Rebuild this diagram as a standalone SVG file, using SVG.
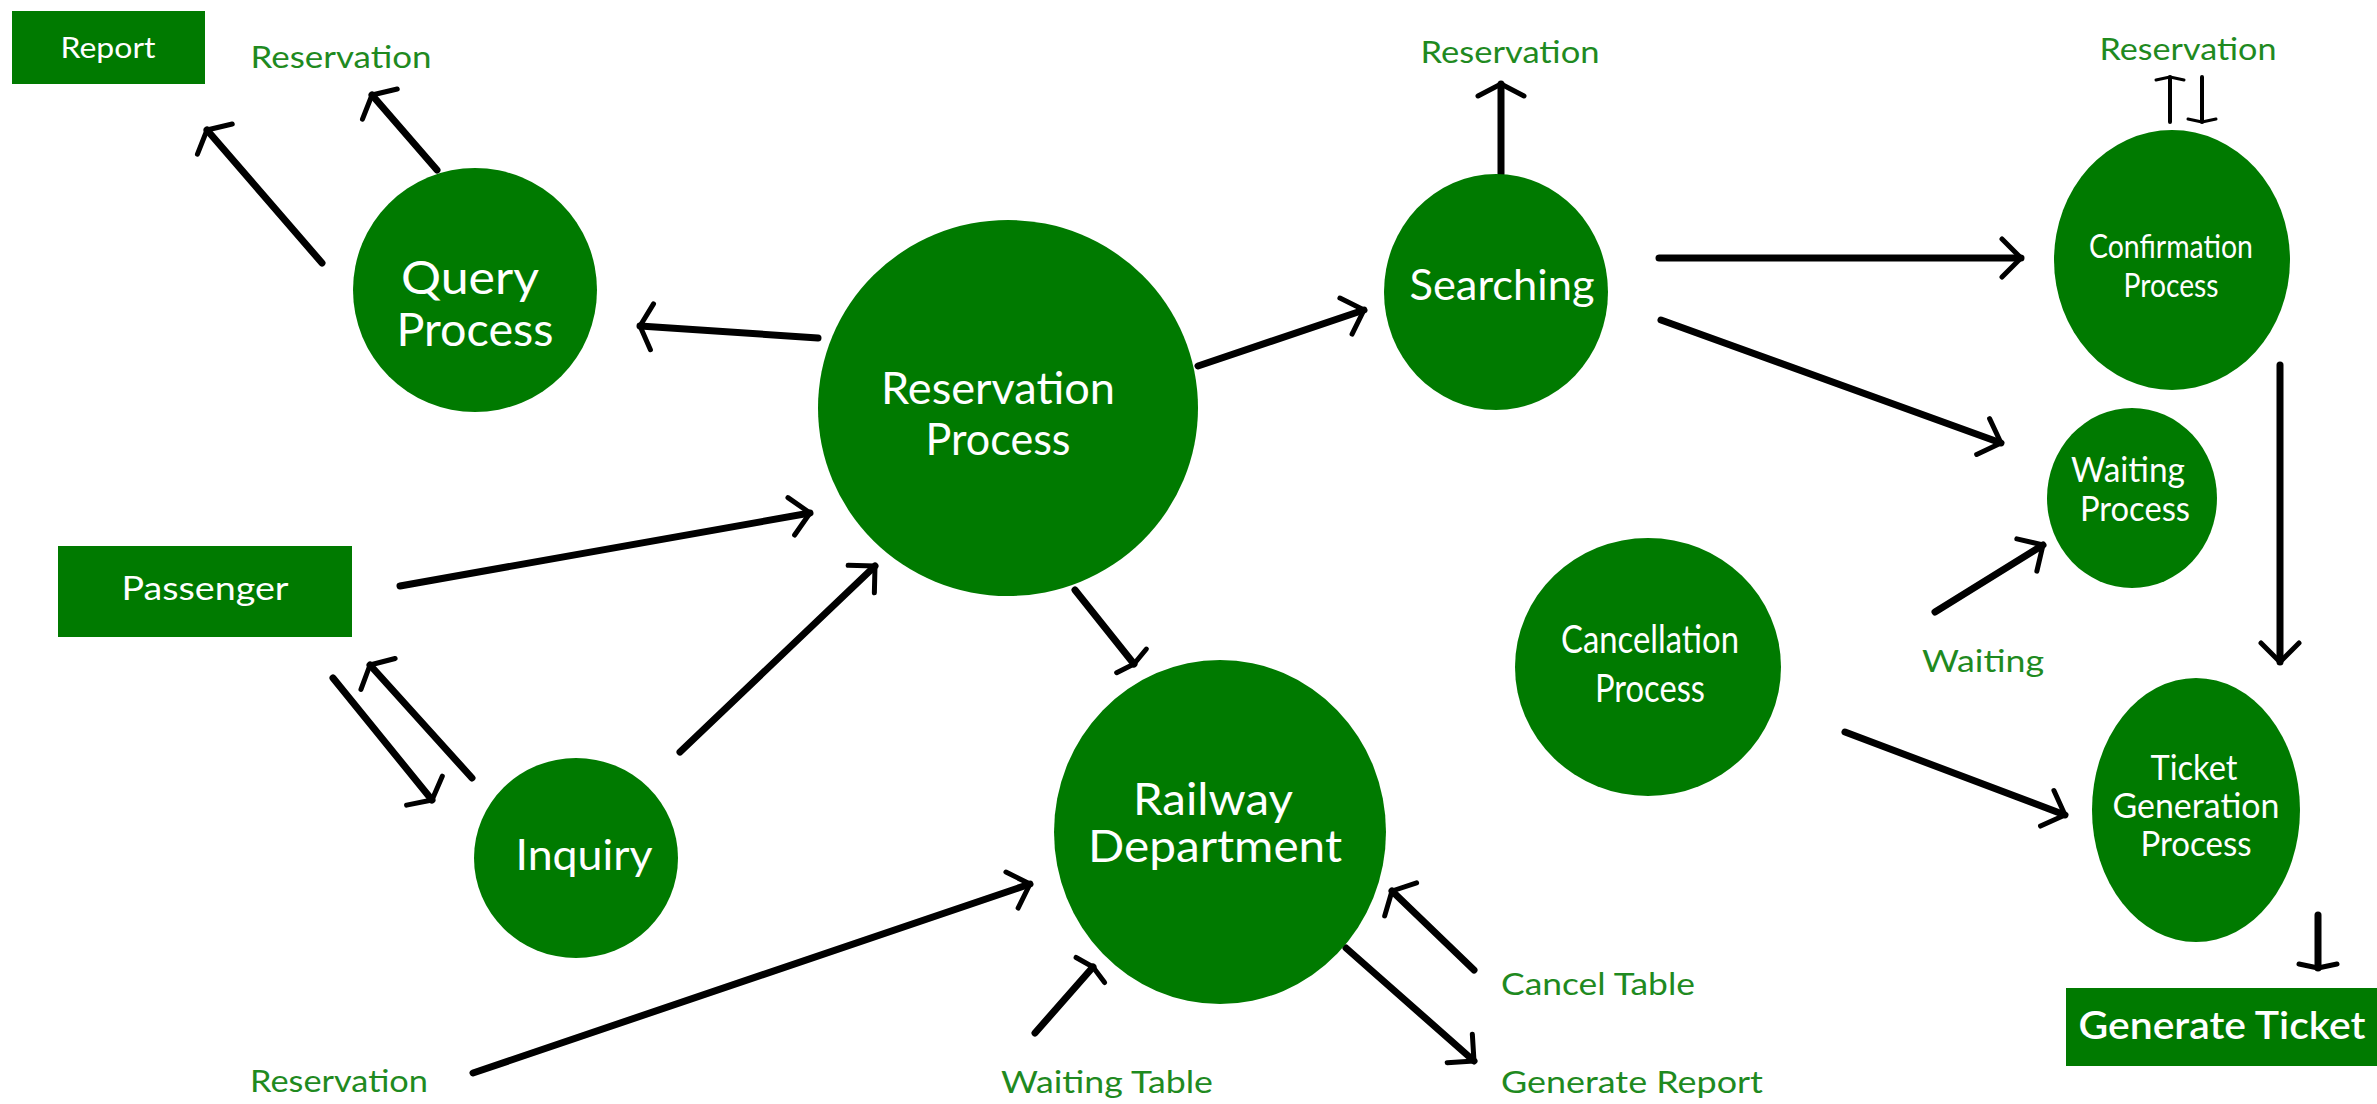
<svg xmlns="http://www.w3.org/2000/svg" width="2377" height="1104" viewBox="0 0 2377 1104">
<style>
.node{fill:#007a00}
.nt{fill:#ffffff;font-family:Lato,"Open Sans","Liberation Sans",sans-serif;text-anchor:middle}
.lb{fill:#1f8a1f;font-family:Lato,"Open Sans","Liberation Sans",sans-serif;text-anchor:middle;font-size:30px}
.c{stroke:#000;stroke-width:7;fill:none;stroke-linecap:round}
.thin{stroke-width:4}
.mk{stroke:#000;stroke-width:5;fill:none;stroke-linecap:round;stroke-linejoin:round}
</style>
<defs>
<marker id="open" markerUnits="userSpaceOnUse" markerWidth="60" markerHeight="60" refX="0" refY="0" orient="auto" overflow="visible" viewBox="-30 -30 60 60">
<path class="mk" d="M-19,-19 L0,0 L-19,19"/>
</marker>
<marker id="wide" markerUnits="userSpaceOnUse" markerWidth="60" markerHeight="60" refX="0" refY="0" orient="auto" overflow="visible" viewBox="-30 -30 60 60">
<path class="mk" d="M-12,-23 L0,0 L-12,23"/>
</marker>
<marker id="tee" markerUnits="userSpaceOnUse" markerWidth="60" markerHeight="60" refX="0" refY="0" orient="auto" overflow="visible" viewBox="-30 -30 60 60">
<path class="mk" d="M-4,-19 L0,0 L-4,19"/>
</marker>
<marker id="teeS" markerUnits="userSpaceOnUse" markerWidth="60" markerHeight="60" refX="0" refY="0" orient="auto" overflow="visible" viewBox="-30 -30 60 60">
<path class="mk" style="stroke-width:3" d="M-3,-14 L0,0 L-3,14"/>
</marker>
</defs>

<g id="connectors">
<line class="c" x1="322" y1="263" x2="207" y2="130" marker-end="url(#wide)"/>
<line class="c" x1="437" y1="170" x2="372" y2="95" marker-end="url(#wide)"/>
<line class="c" x1="818" y1="338" x2="640" y2="326" marker-end="url(#wide)"/>
<line class="c" x1="1198" y1="366" x2="1364" y2="310" marker-end="url(#open)"/>
<line class="c" x1="1501" y1="174" x2="1501" y2="84" marker-end="url(#wide)"/>
<line class="c" x1="1659" y1="258" x2="2021" y2="258" marker-end="url(#open)"/>
<line class="c" x1="1661" y1="320" x2="2001" y2="443" marker-end="url(#open)"/>
<line class="c thin" x1="2170" y1="122" x2="2170" y2="77" marker-end="url(#teeS)"/>
<line class="c thin" x1="2202" y1="77" x2="2202" y2="122" marker-end="url(#teeS)"/>
<line class="c" x1="2280" y1="365" x2="2280" y2="662" marker-end="url(#open)"/>
<line class="c" x1="1935" y1="612" x2="2043" y2="545" marker-end="url(#open)"/>
<line class="c" x1="1845" y1="732" x2="2065" y2="815" marker-end="url(#open)"/>
<line class="c" x1="400" y1="586" x2="810" y2="513" marker-end="url(#open)"/>
<line class="c" x1="680" y1="752" x2="875" y2="566" marker-end="url(#open)"/>
<line class="c" x1="333" y1="678" x2="432" y2="800" marker-end="url(#wide)"/>
<line class="c" x1="472" y1="778" x2="370" y2="665" marker-end="url(#wide)"/>
<line class="c" x1="473" y1="1073" x2="1030" y2="884" marker-end="url(#open)"/>
<line class="c" x1="1075" y1="590" x2="1134" y2="664" marker-end="url(#tee)"/>
<line class="c" x1="1035" y1="1033" x2="1093" y2="967" marker-end="url(#tee)"/>
<line class="c" x1="1346" y1="948" x2="1474" y2="1061" marker-end="url(#open)"/>
<line class="c" x1="1474" y1="970" x2="1392" y2="891" marker-end="url(#wide)"/>
<line class="c" x1="2318" y1="915" x2="2318" y2="968" marker-end="url(#tee)"/>
</g>

<g id="report"><rect class="node" x="12" y="11" width="193" height="73"/><text class="nt" x="108" y="58" font-size="28" textLength="95" lengthAdjust="spacingAndGlyphs">Report</text></g>
<g id="query-process"><ellipse class="node" cx="475" cy="290" rx="122" ry="122"/><text class="nt" x="470" y="294" font-size="46" textLength="138" lengthAdjust="spacingAndGlyphs">Query</text><text class="nt" x="475" y="346" font-size="46" textLength="157" lengthAdjust="spacingAndGlyphs">Process</text></g>
<g id="reservation-process"><ellipse class="node" cx="1008" cy="408" rx="190" ry="188"/><text class="nt" x="998" y="404" font-size="44" textLength="234" lengthAdjust="spacingAndGlyphs">Reservation</text><text class="nt" x="998" y="455" font-size="44" textLength="145" lengthAdjust="spacingAndGlyphs">Process</text></g>
<g id="passenger"><rect class="node" x="58" y="546" width="294" height="91"/><text class="nt" x="205" y="600" font-size="33" textLength="167" lengthAdjust="spacingAndGlyphs">Passenger</text></g>
<g id="inquiry"><ellipse class="node" cx="576" cy="858" rx="102" ry="100"/><text class="nt" x="584" y="870" font-size="42" textLength="137" lengthAdjust="spacingAndGlyphs">Inquiry</text></g>
<g id="railway-department"><ellipse class="node" cx="1220" cy="832" rx="166" ry="172"/><text class="nt" x="1213" y="815" font-size="44" textLength="160" lengthAdjust="spacingAndGlyphs">Railway</text><text class="nt" x="1215" y="862" font-size="44" textLength="254" lengthAdjust="spacingAndGlyphs">Department</text></g>
<g id="searching"><ellipse class="node" cx="1496" cy="292" rx="112" ry="118"/><text class="nt" x="1502" y="300" font-size="42" textLength="185" lengthAdjust="spacingAndGlyphs">Searching</text></g>
<g id="confirmation-process"><ellipse class="node" cx="2172" cy="260" rx="118" ry="130"/><text class="nt" x="2171" y="258" font-size="32" textLength="164" lengthAdjust="spacingAndGlyphs">Confirmation</text><text class="nt" x="2171" y="297" font-size="32" textLength="95" lengthAdjust="spacingAndGlyphs">Process</text></g>
<g id="waiting-process"><ellipse class="node" cx="2132" cy="498" rx="85" ry="90"/><text class="nt" x="2128" y="482" font-size="35" textLength="114" lengthAdjust="spacingAndGlyphs">Waiting</text><text class="nt" x="2135" y="521" font-size="35" textLength="110" lengthAdjust="spacingAndGlyphs">Process</text></g>
<g id="cancellation-process"><ellipse class="node" cx="1648" cy="667" rx="133" ry="129"/><text class="nt" x="1650" y="653" font-size="38" textLength="178" lengthAdjust="spacingAndGlyphs">Cancellation</text><text class="nt" x="1650" y="702" font-size="38" textLength="110" lengthAdjust="spacingAndGlyphs">Process</text></g>
<g id="ticket-generation-process"><ellipse class="node" cx="2196" cy="810" rx="104" ry="132"/><text class="nt" x="2194" y="780" font-size="35" textLength="87" lengthAdjust="spacingAndGlyphs">Ticket</text><text class="nt" x="2196" y="818" font-size="35" textLength="167" lengthAdjust="spacingAndGlyphs">Generation</text><text class="nt" x="2196" y="856" font-size="35" textLength="111" lengthAdjust="spacingAndGlyphs">Process</text></g>
<g id="generate-ticket"><rect class="node" x="2066" y="988" width="311" height="78"/><text class="nt" x="2222" y="1039" font-size="38" font-weight="600" textLength="287" lengthAdjust="spacingAndGlyphs">Generate Ticket</text></g>

<g id="labels">
<text class="lb" x="341" y="68" textLength="181" lengthAdjust="spacingAndGlyphs">Reservation</text>
<text class="lb" x="1510" y="63" textLength="179" lengthAdjust="spacingAndGlyphs">Reservation</text>
<text class="lb" x="2188" y="60" textLength="177" lengthAdjust="spacingAndGlyphs">Reservation</text>
<text class="lb" x="339" y="1092" textLength="178" lengthAdjust="spacingAndGlyphs">Reservation</text>
<text class="lb" x="1107" y="1093" textLength="212" lengthAdjust="spacingAndGlyphs">Waiting Table</text>
<text class="lb" x="1632" y="1093" textLength="262" lengthAdjust="spacingAndGlyphs">Generate Report</text>
<text class="lb" x="1598" y="995" textLength="194" lengthAdjust="spacingAndGlyphs">Cancel Table</text>
<text class="lb" x="1983" y="672" textLength="122" lengthAdjust="spacingAndGlyphs">Waiting</text>
</g>
</svg>
